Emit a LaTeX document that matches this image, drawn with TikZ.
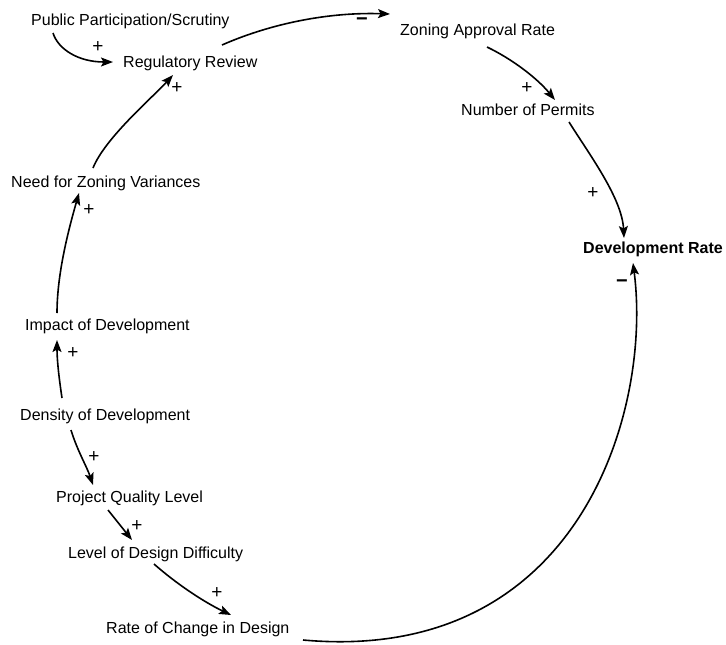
\documentclass[tikz,border=0pt]{standalone}
\usepackage{fontspec}
\setmainfont{Liberation Sans}
\usetikzlibrary{arrows.meta}
\begin{document}
\begin{tikzpicture}[x=1pt,y=-1pt,
  var/.style={anchor=base west,inner sep=0pt,font=\fontsize{16}{19}\selectfont},
  sgn/.style={inner sep=0pt,font=\fontsize{19}{22}\selectfont},
  neg/.style={inner sep=0pt,font=\fontsize{20}{22}\selectfont\bfseries},
  link/.style={line width=1.6pt,-{Stealth[length=12pt,width=9pt,inset=2.5pt]}}]
\path[use as bounding box] (0,0) rectangle (726,645);

% variables
\node[var] (pub)  at (31,25)  {Public Participation/Scrutiny};
\node[var] (rr)   at (123,67) {Regulatory Review};
\node[var] (zar)  at (400,35) {Zoning Approval Rate};
\node[var] (nop)  at (461,115) {Number of Permits};
\node[var,font=\fontsize{16}{19}\selectfont\bfseries] (dr) at (583,253) {Development Rate};
\node[var] (need) at (11,187) {Need for Zoning Variances};
\node[var] (imp)  at (25,330) {Impact of Development};
\node[var] (den)  at (20,420) {Density of Development};
\node[var] (pql)  at (56,502) {Project Quality Level};
\node[var] (lodd) at (68,558) {Level of Design Difficulty};
\node[var] (roc)  at (106,633) {Rate of Change in Design};

% causal links
\draw[link] ([shift={(22,8)}]pub.base west) .. controls +(5,16) and +(-35,0) .. ([shift={(-10,-5)}]rr.base west);
\draw[link] ([shift={(82,-19)}]need.base west) .. controls +(12,-30) and +(-20,22) .. ([shift={(50,8)}]rr.base west);
\draw[link] ([shift={(99,-22)}]rr.base west) .. controls +(50,-22) and +(-60,-2) .. ([shift={(-10,-21)}]zar.base west);
\draw[link] ([shift={(87,12)}]zar.base west) .. controls +(25,12) and +(-18,-22) .. ([shift={(94,-15)}]nop.base west);
\draw[link] ([shift={(108,7)}]nop.base west) .. controls +(20,32) and +(-2,-40) .. ([shift={(41,-15)}]dr.base west);
\draw[link] ([shift={(197,7)}]roc.base west) .. controls +(277,25) and +(19,147) .. ([shift={(50,10)}]dr.base west);
\draw[link] ([shift={(32,-17)}]imp.base west) .. controls +(0,-40) and +(-10,35) .. ([shift={(68,6)}]need.base west);
\draw[link] ([shift={(42,-22)}]den.base west) .. controls +(-3,-20) and +(0,20) .. ([shift={(32,10)}]imp.base west);
\draw[link] ([shift={(51,10)}]den.base west) .. controls +(6,20) and +(-6,-18) .. ([shift={(37,-17)}]pql.base west);
\draw[link] ([shift={(52,8)}]pql.base west) .. controls +(8,10) and +(-8,-10) .. ([shift={(64,-18)}]lodd.base west);
\draw[link] ([shift={(86,6)}]lodd.base west) .. controls +(25,22) and +(-25,-12) .. ([shift={(125,-18)}]roc.base west);

% link polarities
\node[sgn] (s1)  at (98,47)   {+};
\node[sgn] (s2)  at (177,88)  {+};
\node[neg] (s3)  at (362,22)  {−};
\node[sgn] (s4)  at (527,88)  {+};
\node[sgn] (s5)  at (593,193) {+};
\node[neg] (s6)  at (622,284) {−};
\node[sgn] (s7)  at (89,210)  {+};
\node[sgn] (s8)  at (73,353)  {+};
\node[sgn] (s9)  at (94,457)  {+};
\node[sgn] (s10) at (137,526) {+};
\node[sgn] (s11) at (217,593) {+};
\end{tikzpicture}
\end{document}
